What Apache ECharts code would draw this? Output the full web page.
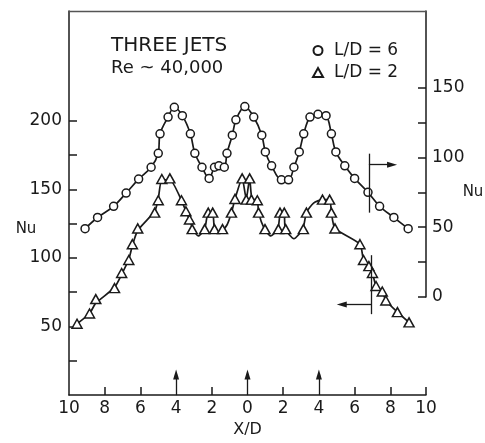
<!DOCTYPE html>
<html>
<head>
<meta charset="utf-8">
<script src="https://cdn.jsdelivr.net/npm/echarts@6/dist/echarts.min.js"></script>
<style>
html,body{margin:0;padding:0;background:#fff;}
#chart{width:485px;height:443px;}
</style>
</head>
<body>
<div id="chart"></div>
<script>
// L/D = 6 (circles, read on the right Nu axis)
const circleX  = [-9.1, -8.4, -7.5, -6.8, -6.1, -5.4, -5.0, -4.9, -4.45, -4.1, -3.65, -3.2, -2.95, -2.55, -2.15, -1.85, -1.6, -1.3, -1.15, -0.85, -0.65, -0.15, 0.35, 0.8, 1.0, 1.35, 1.9, 2.3, 2.6, 2.9, 3.15, 3.5, 3.95, 4.4, 4.7, 4.95, 5.45, 6.0, 6.75, 7.4, 8.2, 9.0];
const circleNu = [49, 57, 65, 74.5, 84.5, 93, 103, 117, 129, 136, 130, 117, 103, 93, 85, 93, 94, 93, 103, 116, 127, 136.5, 129, 116, 104, 94, 84, 84, 93, 104, 117, 129, 131, 130, 117, 104, 94, 85, 75, 65, 57, 49];

// L/D = 2 (triangles, read on the left Nu axis)
const triX  = [-9.55, -8.85, -8.5, -7.45, -7.05, -6.65, -6.45, -6.15, -5.2, -5.0, -4.8, -4.35, -3.7, -3.45, -3.25, -3.1, -2.4, -2.2, -1.95, -1.85, -1.4, -0.9, -0.7, -0.3, -0.07, 0.12, 0.22, 0.55, 0.62, 0.98, 1.73, 1.82, 2.06, 2.14, 3.13, 3.3, 4.2, 4.6, 4.7, 4.9, 6.3, 6.5, 6.8, 7.0, 7.2, 7.55, 7.75, 8.4, 9.05];
const triNu = [52, 59.5, 70, 78, 89, 98.5, 110, 121.5, 133, 142, 157.5, 158, 142, 134, 128, 121, 121, 133, 133, 121, 121, 133, 143, 158, 142.5, 158, 142.5, 142, 133, 121, 121, 133, 133, 121, 121, 133, 142.5, 142.5, 133, 121.5, 110, 98.5, 94, 89, 79.5, 75.5, 69, 60.5, 53];

// hand-fitted curve through the L/D = 2 data
const triFitX  = [-9.55, -8.85, -8.5, -7.45, -7.05, -6.65, -6.45, -6.15, -5.2, -5.0, -4.8, -4.35, -3.7, -3.45, -3.25, -3.05, -2.75, -2.4, -2.2, -1.95, -1.85, -1.6, -1.4, -1.15, -0.9, -0.7, -0.3, -0.07, 0.12, 0.25, 0.55, 0.62, 0.95, 1.3, 1.7, 1.85, 2.05, 2.12, 2.6, 3.1, 3.3, 3.7, 4.2, 4.6, 4.7, 4.9, 6.3, 6.5, 6.8, 7.0, 7.2, 7.55, 7.75, 8.4, 9.05];
const triFitNu = [52, 59.5, 67, 78.5, 88, 99, 109, 120, 134, 143, 157, 157, 142, 134, 128, 121, 116, 121, 133, 133, 121, 118, 120, 124, 133, 143, 158, 143, 158, 143, 142, 133, 121, 116, 121, 133, 133, 121, 114, 121, 133, 140, 142.5, 142.5, 133, 121.5, 110, 98.5, 94, 89, 79.5, 75.5, 69, 60.5, 53];

// axis ticks / labels
const xTickValues   = [-8, -6, -2, 2, 6, 8, 10];
const leftTicks     = [25, 50, 75, 100, 125, 150, 175, 200];
const leftLabels    = [50, 100, 150, 200];
const rightTicks    = [0, 25, 50, 75, 100, 125, 150];
const rightLabels   = [0, 50, 100, 150];
const rightAxisMax  = 205;

// jet positions (arrows on the X/D axis) and axis pointer marks
const jetX = [-4, 0, 4];
const jetArrowTop = 15;
const rightPointer = { x: 6.8, y0: 133, y1: 176, yArrow: 168, xTip: 8.1 };
const leftPointer  = { x: 6.95, y0: 59, y1: 102, yArrow: 66, xTip: 5.28 };

const FONT = 'DejaVu Sans';
const INK = '#1a1a1a';
const zip = (a, b) => a.map((v, i) => [v, b[i]]);

const markData = [];
jetX.forEach(x => markData.push([{ coord: [x, 0], symbol: 'none' }, { coord: [x, jetArrowTop], symbol: 'triangle' }]));
markData.push([{ coord: [rightPointer.x, rightPointer.y0], symbol: 'none' }, { coord: [rightPointer.x, rightPointer.y1], symbol: 'none' }]);
markData.push([{ coord: [rightPointer.x, rightPointer.yArrow], symbol: 'none' }, { coord: [rightPointer.xTip, rightPointer.yArrow], symbol: 'triangle' }]);
markData.push([{ coord: [leftPointer.x, leftPointer.y0], symbol: 'none' }, { coord: [leftPointer.x, leftPointer.y1], symbol: 'none' }]);
markData.push([{ coord: [leftPointer.x, leftPointer.yArrow], symbol: 'none' }, { coord: [leftPointer.xTip, leftPointer.yArrow], symbol: 'triangle' }]);

const labelStyle = { fontFamily: FONT, fontSize: 17, color: INK };

const chart = echarts.init(document.getElementById('chart'));
chart.setOption({
  animation: false,
  backgroundColor: '#fff',
  title: {
    text: 'THREE JETS',
    subtext: 'Re ~ 40,000',
    left: 111, top: 36, padding: 0, itemGap: 3,
    textStyle: { fontFamily: FONT, fontSize: 20, fontWeight: 'normal', color: INK },
    subtextStyle: { fontFamily: FONT, fontSize: 18, color: INK }
  },
  legend: {
    orient: 'vertical', left: 307, top: 37, itemGap: 5,
    itemWidth: 10, itemHeight: 9,
    textStyle: { fontFamily: FONT, fontSize: 17, color: INK, padding: [0, 0, 0, 6] },
    data: [{ name: 'L/D = 6', icon: 'circle' }, { name: 'L/D = 2', icon: 'triangle' }]
  },
  graphic: [
    { type: 'text', x: 26, y: 229, style: { text: 'Nu', fontFamily: FONT, fontSize: 15, fill: INK, align: 'center', verticalAlign: 'middle' } },
    { type: 'text', x: 473, y: 192, style: { text: 'Nu', fontFamily: FONT, fontSize: 15, fill: INK, align: 'center', verticalAlign: 'middle' } }
  ],
  grid: [
    { left: 69, right: 59, top: 11, bottom: 41 },
    { left: 69, right: 59, top: 11, bottom: 146 }
  ],
  xAxis: [
    {
      gridIndex: 0, type: 'value', min: -10, max: 10, interval: 2,
      axisLine: { show: true, onZero: false, lineStyle: { color: INK, width: 1.5 } },
      axisTick: { show: true, inside: true, length: 8, customValues: xTickValues, lineStyle: { color: INK, width: 1.5 } },
      axisLabel: Object.assign({ margin: 5, formatter: v => String(Math.abs(v)) }, labelStyle),
      splitLine: { show: false },
      name: 'X/D', nameLocation: 'middle', nameGap: 26,
      nameTextStyle: { fontFamily: FONT, fontSize: 16, color: INK }
    },
    {
      gridIndex: 1, type: 'value', min: -10, max: 10, position: 'top',
      axisLine: { show: false }, axisLabel: { show: false },
      axisTick: { show: false }, splitLine: { show: false }
    }
  ],
  yAxis: [
    {
      gridIndex: 0, type: 'value', min: 0, max: 280, position: 'left',
      axisLine: { show: true, onZero: false, lineStyle: { color: INK, width: 1.5 } },
      axisTick: { show: true, inside: true, length: 8, customValues: leftTicks, lineStyle: { color: INK, width: 1.5 } },
      axisLabel: Object.assign({ margin: 7, customValues: leftLabels }, labelStyle),
      splitLine: { show: false }
    },
    {
      gridIndex: 1, type: 'value', min: 0, max: rightAxisMax, position: 'right',
      axisLine: { show: true, onZero: false, lineStyle: { color: INK, width: 1.5 } },
      axisTick: { show: true, inside: true, length: 8, customValues: rightTicks, lineStyle: { color: INK, width: 1.5 } },
      axisLabel: Object.assign({ margin: 6, customValues: rightLabels }, labelStyle),
      splitLine: { show: false }
    }
  ],
  series: [
    {
      name: 'L/D = 6', type: 'line', xAxisIndex: 1, yAxisIndex: 1,
      data: zip(circleX, circleNu),
      smooth: 0.35, symbol: 'circle', symbolSize: 8, showSymbol: true, showAllSymbol: true,
      itemStyle: { color: '#fff', borderColor: INK, borderWidth: 1.5 },
      lineStyle: { color: INK, width: 1.7 },
      z: 3, silent: true,
      markLine: {
        silent: true, animation: false, symbol: 'none',
        label: { show: false },
        lineStyle: { color: '#555', width: 1.3, type: 'solid' },
        emphasis: { disabled: true },
        data: [{ yAxis: rightAxisMax }]
      }
    },
    {
      name: 'L/D = 2 fit', type: 'line', xAxisIndex: 0, yAxisIndex: 0,
      data: zip(triFitX, triFitNu),
      smooth: 0.2, symbol: 'none',
      lineStyle: { color: INK, width: 1.7 },
      z: 2, silent: true
    },
    {
      name: 'L/D = 2', type: 'scatter', xAxisIndex: 0, yAxisIndex: 0,
      data: zip(triX, triNu),
      symbol: 'triangle', symbolSize: [10, 9],
      itemStyle: { color: '#fff', borderColor: INK, borderWidth: 1.5, opacity: 1 },
      z: 4, silent: true,
      markLine: {
        silent: true, animation: false,
        symbol: ['none', 'triangle'], symbolSize: [6, 10],
        label: { show: false },
        lineStyle: { color: INK, width: 1.3, type: 'solid' },
        emphasis: { disabled: true },
        data: markData
      }
    }
  ]
});
</script>
</body>
</html>
